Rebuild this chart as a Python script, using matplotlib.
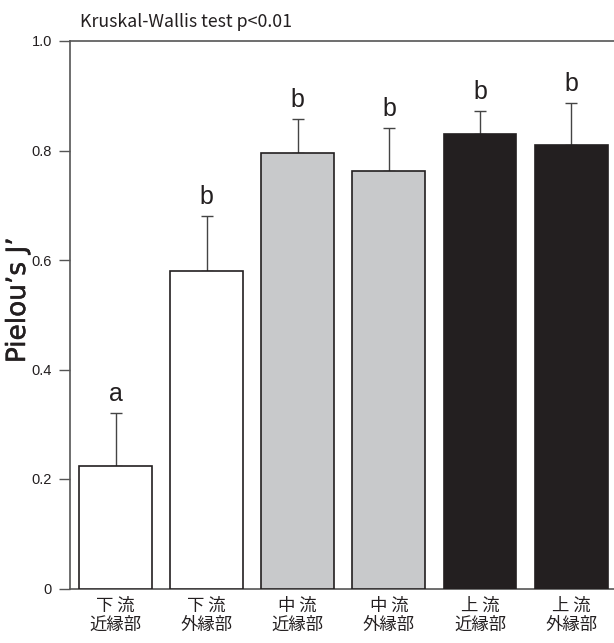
import matplotlib
matplotlib.use("Agg")
import matplotlib.pyplot as plt
import matplotlib.patheffects as pe
import numpy as np

categories = ["下 流\n近縁部", "下 流\n外縁部", "中 流\n近縁部", "中 流\n外縁部", "上 流\n近縁部", "上 流\n外縁部"]
means = [0.224, 0.580, 0.795, 0.763, 0.831, 0.810]
errors = [0.097, 0.100, 0.062, 0.079, 0.041, 0.077]
letters = ["a", "b", "b", "b", "b", "b"]
colors = ["#ffffff", "#ffffff", "#c8c9cb", "#c8c9cb", "#231f20", "#231f20"]
yticks = [0, 0.2, 0.4, 0.6, 0.8, 1.0]
yticklabels = ["0", "0.2", "0.4", "0.6", "0.8", "1.0"]

W, H = 614, 643
fig = plt.figure(figsize=(W / 100, H / 100), dpi=100)
ax = fig.add_axes([70 / W, 1 - 588.5 / H, 1 - 70 / W, (588.5 - 41) / H])

x = np.arange(len(categories))
ax.bar(x, means, width=0.8, color=colors, edgecolor="#231f20", linewidth=1.2, zorder=3)
ax.errorbar(x, means, yerr=[np.zeros(len(errors)), errors], fmt="none",
            ecolor="#444444", elinewidth=1.0, capsize=4, capthick=1.0, zorder=2)

for xi, m, e, l in zip(x, means, errors, letters):
    ax.annotate(l, (xi, m + e), xytext=(0, 8.5), textcoords="offset points",
                ha="center", va="baseline", fontsize=18,
                family=["Liberation Sans"], color="#231f20")

ax.set_xlim(-0.5, 5.47)
ax.set_ylim(0, 1.0)
ax.set_yticks(yticks)
ax.set_yticklabels(yticklabels, family=["Liberation Sans"], fontsize=10.5, color="#231f20")
ax.set_xticks(x)
ax.set_xticklabels(categories, family=["Noto Sans CJK JP", "DejaVu Sans"], fontsize=12.5,
                   color="#231f20", linespacing=1.1)
ax.tick_params(axis="x", length=0, pad=6)
ax.tick_params(axis="y", length=8, width=1.0, color="#555555", pad=5, direction="out")

for s in ["left", "top", "bottom"]:
    ax.spines[s].set_color("#555555")
    ax.spines[s].set_linewidth(1.2)
ax.spines["right"].set_visible(False)

fig.text(80 / W, 1 - 27 / H, "Kruskal-Wallis test p<0.01", ha="left", va="baseline",
         fontsize=12.8, family=["Noto Sans CJK JP", "DejaVu Sans"], color="#231f20")
fig.text(18 / W, 1 - 300 / H, "Pielou’s J’", rotation=90, ha="center", va="center",
         fontsize=19, family=["DejaVu Sans"], color="#231f20",
         path_effects=[pe.withStroke(linewidth=0.35, foreground="#231f20")])

fig.savefig("out.png", dpi=100)
